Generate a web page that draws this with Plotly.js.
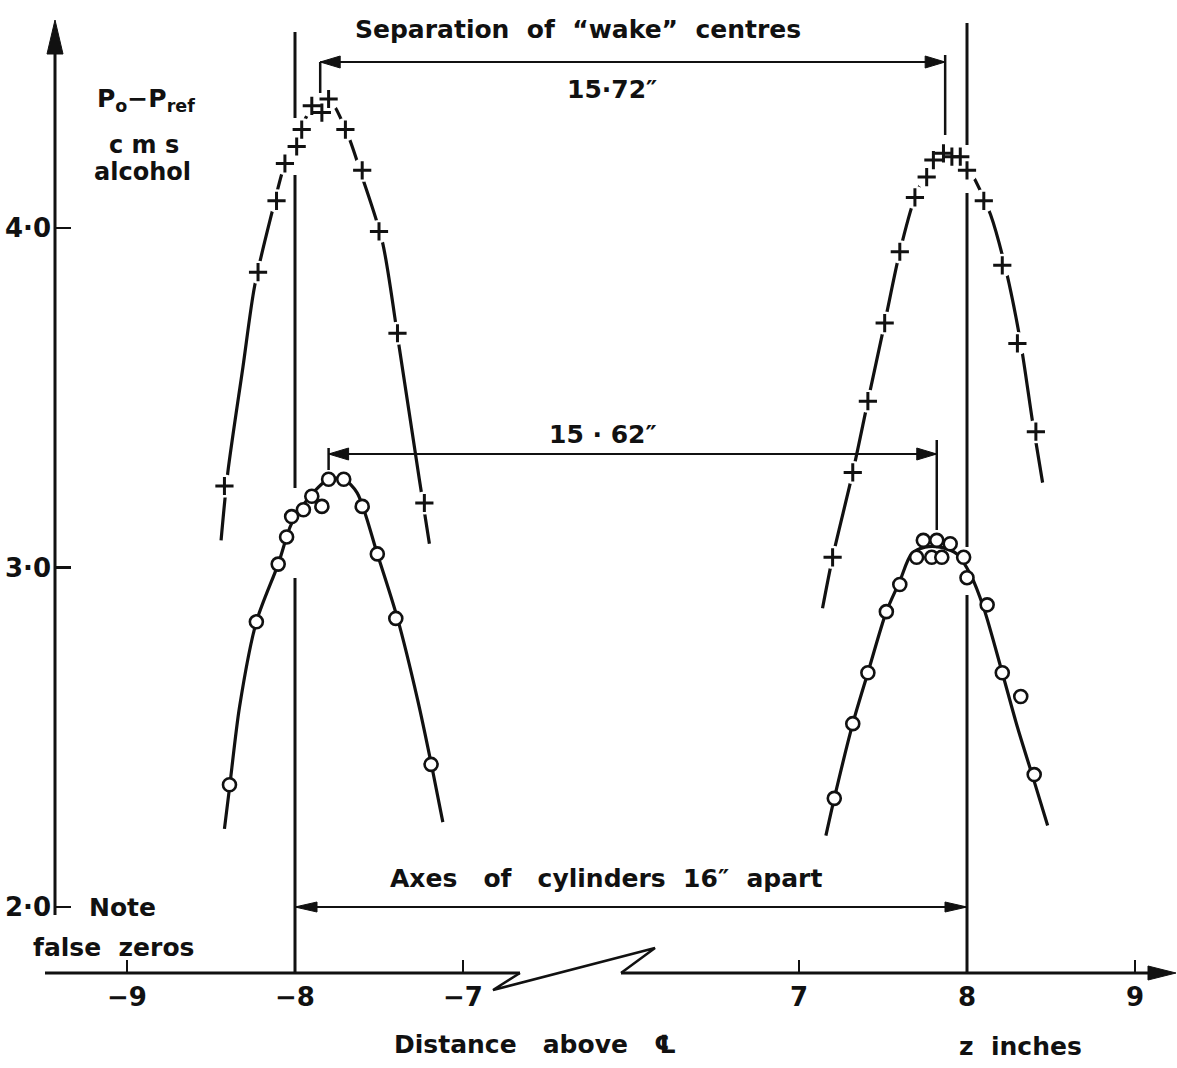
<!DOCTYPE html>
<html><head><meta charset="utf-8">
<script src="https://cdn.plot.ly/plotly-3.0.1.min.js"></script>
<style>html,body{margin:0;padding:0;background:#fff}</style>
</head><body><div id="chart" style="width:1177px;height:1068px"></div>
<script>
// ---------------- data ----------------
// x in inches (distance above centre line), y = p0 - pref (cms alcohol, false zero)
const xTicksLeft = [-9, -8, -7];
const xTickTextLeft = ['−9', '−8', '−7'];
const xTicksRight = [7, 8, 9];
const xTickTextRight = ['7', '8', '9'];
const yTicks = [2, 3, 4];
const yTickText = ['2·0', '3·0', '4·0'];

// upper series (crosses)
const upperLeftCrossX = [-8.42, -8.22, -8.11, -8.06, -7.99, -7.96, -7.90, -7.84, -7.80, -7.70, -7.60, -7.50, -7.39, -7.23];
const upperLeftCrossY = [3.24, 3.87, 4.08, 4.19, 4.24, 4.29, 4.36, 4.34, 4.38, 4.29, 4.17, 3.99, 3.69, 3.19];
const upperRightCrossX = [7.20, 7.32, 7.41, 7.51, 7.60, 7.69, 7.76, 7.80, 7.86, 7.91, 7.96, 8.00, 8.10, 8.21, 8.30, 8.41];
const upperRightCrossY = [3.03, 3.28, 3.49, 3.72, 3.93, 4.09, 4.15, 4.20, 4.22, 4.21, 4.21, 4.17, 4.08, 3.89, 3.66, 3.40];

// lower series (circles)
const lowerLeftCircleX = [-8.39, -8.23, -8.10, -8.05, -8.02, -7.95, -7.90, -7.84, -7.80, -7.71, -7.60, -7.51, -7.40, -7.19];
const lowerLeftCircleY = [2.36, 2.84, 3.01, 3.09, 3.15, 3.17, 3.21, 3.18, 3.26, 3.26, 3.18, 3.04, 2.85, 2.42];
const lowerRightCircleX = [7.21, 7.32, 7.41, 7.52, 7.60, 7.70, 7.74, 7.79, 7.82, 7.85, 7.90, 7.98, 8.00, 8.12, 8.21, 8.32, 8.40];
const lowerRightCircleY = [2.32, 2.54, 2.69, 2.87, 2.95, 3.03, 3.08, 3.03, 3.08, 3.03, 3.07, 3.03, 2.97, 2.89, 2.69, 2.62, 2.39];

// hand-drawn fitted curves
const upperLeftCurveX = [-8.44, -8.40, -8.31, -8.24, -8.14, -8.06, -7.97, -7.89, -7.80, -7.69, -7.60, -7.48, -7.38, -7.26, -7.20];
const upperLeftCurveY = [3.08, 3.28, 3.59, 3.83, 4.04, 4.19, 4.29, 4.36, 4.38, 4.28, 4.15, 3.96, 3.65, 3.26, 3.07];
const upperRightCurveX = [7.14, 7.20, 7.32, 7.41, 7.51, 7.60, 7.69, 7.78, 7.87, 7.96, 8.05, 8.14, 8.23, 8.32, 8.39, 8.45];
const upperRightCurveY = [2.88, 3.03, 3.28, 3.49, 3.72, 3.93, 4.09, 4.18, 4.22, 4.21, 4.14, 4.04, 3.88, 3.66, 3.43, 3.25];
const lowerLeftCurveX = [-8.42, -8.39, -8.33, -8.23, -8.10, -8.02, -7.91, -7.80, -7.71, -7.63, -7.51, -7.39, -7.27, -7.18, -7.12];
const lowerLeftCurveY = [2.23, 2.35, 2.59, 2.84, 3.01, 3.13, 3.21, 3.26, 3.26, 3.22, 3.04, 2.85, 2.61, 2.40, 2.25];
const lowerRightCurveX = [7.16, 7.21, 7.32, 7.41, 7.52, 7.60, 7.67, 7.75, 7.84, 7.94, 8.02, 8.10, 8.21, 8.30, 8.40, 8.48];
const lowerRightCurveY = [2.21, 2.32, 2.54, 2.69, 2.87, 2.96, 3.04, 3.06, 3.06, 3.04, 2.98, 2.88, 2.69, 2.53, 2.37, 2.24];

// reference positions
const cylinderAxes = [-8, 8];          // axes of cylinders, 16" apart
const wakeCentresUpper = [-7.85, 7.87]; // 15.72"
const wakeCentresLower = [-7.80, 7.82]; // 15.62"

// ---------------- layout geometry ----------------
const W = 1177, H = 1068;
const PX_IN = 168, XN8 = 295, XP8 = 967, Y4 = 228, PX_U = 339.5;
const lx = px => -8 + (px - XN8) / PX_IN;
const rx = px => 8 + (px - XP8) / PX_IN;
const yv = py => 4 + (Y4 - py) / PX_U;
const BRK = 568;
const AXIS_Y_PX = 973, YAXIS_X_PX = 55;
const yAxisLevel = yv(AXIS_Y_PX);
const FONT = 'DejaVu Sans';

function curve(x, y, xa) {
  return {x, y, xaxis: xa, yaxis: 'y', mode: 'lines', line: {color: '#111', width: 3.2, shape: 'spline', smoothing: 0.8}, hoverinfo: 'skip'};
}
function masks(x, y, xa) {
  return {x, y, xaxis: xa, yaxis: 'y', mode: 'markers', marker: {symbol: 'circle', size: 23, color: '#fff', line: {width: 0}}, hoverinfo: 'skip'};
}
function crosses(x, y, xa) {
  return {x, y, xaxis: xa, yaxis: 'y', mode: 'markers', marker: {symbol: 'cross-thin', size: 13, color: '#111', line: {color: '#111', width: 3}}};
}
function circles(x, y, xa) {
  return {x, y, xaxis: xa, yaxis: 'y', mode: 'markers', marker: {symbol: 'circle', size: 13, color: '#fff', line: {color: '#111', width: 2.6}}};
}

const data = [
  curve(upperLeftCurveX, upperLeftCurveY, 'x'), masks(upperLeftCrossX, upperLeftCrossY, 'x'), crosses(upperLeftCrossX, upperLeftCrossY, 'x'),
  curve(lowerLeftCurveX, lowerLeftCurveY, 'x'), circles(lowerLeftCircleX, lowerLeftCircleY, 'x'),
  curve(upperRightCurveX, upperRightCurveY, 'x2'), masks(upperRightCrossX, upperRightCrossY, 'x2'), crosses(upperRightCrossX, upperRightCrossY, 'x2'),
  curve(lowerRightCurveX, lowerRightCurveY, 'x2'), circles(lowerRightCircleX, lowerRightCircleY, 'x2')
];

const LC = '#111';
function seg(xref, x0, y0, x1, y1, w) {
  return {type: 'line', xref, yref: 'y', x0, y0, x1, y1, line: {color: LC, width: w || 3}};
}
function head(xref, x, y, path) {
  return {type: 'path', xref, yref: 'y', xsizemode: 'pixel', ysizemode: 'pixel', xanchor: x, yanchor: y, path, fillcolor: LC, line: {color: LC, width: 1}};
}
const HL = 'M0,0 L20,6 L20,-6 Z';   // points left
const HR = 'M0,0 L-20,6 L-20,-6 Z'; // points right

const yUpperArrow = yv(62), yLowerArrow = yv(454), yBottomArrow = 2.0;
const shapes = [
  // x axis (broken)
  seg('x', lx(45), yAxisLevel, lx(520), yAxisLevel),
  seg('x2', rx(621), yAxisLevel, rx(1160), yAxisLevel),
  {type: 'path', xref: 'paper', yref: 'paper', path: `M${520/W},${1-973/H} L${493/W},${1-990/H} L${655/W},${1-948/H} L${621/W},${1-973/H}`, line: {color: LC, width: 2.5}},
  head('x2', rx(1176), yAxisLevel, 'M0,0 L-28,7 L-28,-7 Z'),
  // y axis
  seg('x', lx(YAXIS_X_PX), yv(915), lx(YAXIS_X_PX), yv(40)),
  head('x', lx(YAXIS_X_PX), yv(20), 'M0,0 L-8,-34 L8,-34 Z'),
  // cylinder axes (vertical lines with gaps)
  seg('x', cylinderAxes[0], yv(32), cylinderAxes[0], yv(118)),
  seg('x', cylinderAxes[0], yv(175), cylinderAxes[0], yv(488)),
  seg('x', cylinderAxes[0], yv(578), cylinderAxes[0], yAxisLevel),
  seg('x2', cylinderAxes[1], yv(23), cylinderAxes[1], yv(145)),
  seg('x2', cylinderAxes[1], yv(193), cylinderAxes[1], yv(547)),
  seg('x2', cylinderAxes[1], yv(595), cylinderAxes[1], yAxisLevel),
  // upper wake centre markers and arrow
  seg('x', wakeCentresUpper[0], yv(62), wakeCentresUpper[0], yv(93), 2.5),
  seg('x2', wakeCentresUpper[1], yv(55), wakeCentresUpper[1], yv(135), 2.5),
  seg('x', wakeCentresUpper[0], yUpperArrow, lx(BRK), yUpperArrow, 2),
  seg('x2', rx(BRK), yUpperArrow, wakeCentresUpper[1], yUpperArrow, 2),
  head('x', wakeCentresUpper[0], yUpperArrow, HL),
  head('x2', wakeCentresUpper[1], yUpperArrow, HR),
  // lower wake centre markers and arrow
  seg('x', wakeCentresLower[0], yv(448), wakeCentresLower[0], yv(470), 2.5),
  seg('x2', wakeCentresLower[1], yv(440), wakeCentresLower[1], yv(530), 2.5),
  seg('x', wakeCentresLower[0], yLowerArrow, lx(BRK), yLowerArrow, 2),
  seg('x2', rx(BRK), yLowerArrow, wakeCentresLower[1], yLowerArrow, 2),
  head('x', wakeCentresLower[0], yLowerArrow, HL),
  head('x2', wakeCentresLower[1], yLowerArrow, HR),
  // axes of cylinders arrow
  seg('x', cylinderAxes[0], yBottomArrow, lx(BRK), yBottomArrow, 2),
  seg('x2', rx(BRK), yBottomArrow, cylinderAxes[1], yBottomArrow, 2),
  head('x', cylinderAxes[0], yBottomArrow, 'M0,0 L22,5 L22,-5 Z'),
  head('x2', cylinderAxes[1], yBottomArrow, 'M0,0 L-22,5 L-22,-5 Z')
];

function txt(text, px, py, size, anchor) {
  return {text: '<b>' + text + '</b>', xref: 'paper', yref: 'paper', x: px / W, y: 1 - py / H,
    xanchor: anchor || 'center', yanchor: 'middle', showarrow: false,
    font: {family: FONT, size: size || 25, color: LC}};
}
const annotations = [
  txt('Separation  of  “wake”  centres', 578, 30),
  txt('15·72″', 612, 90),
  txt('15 · 62″', 603, 435),
  txt('Axes   of   cylinders  16″  apart', 606, 878),
  txt('Note', 87, 907, 25, 'left'),
  txt('false  zeros', 31, 947, 25, 'left'),
  txt('P<sub>o</sub>−P<sub>ref</sub>', 95, 100, 25, 'left'),
  txt('c m s', 107, 145, 24, 'left'),
  txt('alcohol', 92, 172, 24, 'left'),
  txt('Distance   above   ℄', 535, 1044),
  txt('z  inches', 957, 1046, 25, 'left')
];

const tickFont = {family: FONT, size: 26, color: LC, weight: 'bold'};
const layout = {
  width: W, height: H, margin: {l: 0, r: 0, t: 0, b: 0},
  paper_bgcolor: '#fff', plot_bgcolor: 'rgba(0,0,0,0)', showlegend: false,
  xaxis: {domain: [0, BRK / W], range: [lx(0), lx(BRK)], anchor: 'free', position: 1 - AXIS_Y_PX / H,
    tickvals: xTicksLeft, ticktext: xTickTextLeft, ticks: 'inside', ticklen: 13, tickwidth: 2.5, tickcolor: LC,
    tickfont: tickFont, ticklabelstandoff: 6, showgrid: false, zeroline: false, showline: false},
  xaxis2: {domain: [BRK / W, 1], range: [rx(BRK), rx(W)], anchor: 'free', position: 1 - AXIS_Y_PX / H,
    tickvals: xTicksRight, ticktext: xTickTextRight, ticks: 'inside', ticklen: 13, tickwidth: 2.5, tickcolor: LC,
    tickfont: tickFont, ticklabelstandoff: 6, showgrid: false, zeroline: false, showline: false},
  yaxis: {domain: [0, 1], range: [yv(H), yv(0)], anchor: 'free', position: YAXIS_X_PX / W,
    tickvals: yTicks, ticktext: yTickText, ticks: 'inside', ticklen: 15, tickwidth: 2.5, tickcolor: LC,
    tickfont: tickFont, ticklabelstandoff: 4, showgrid: false, zeroline: false, showline: false},
  shapes, annotations
};

Plotly.newPlot('chart', data, layout, {staticPlot: true, displayModeBar: false});
</script></body></html>
